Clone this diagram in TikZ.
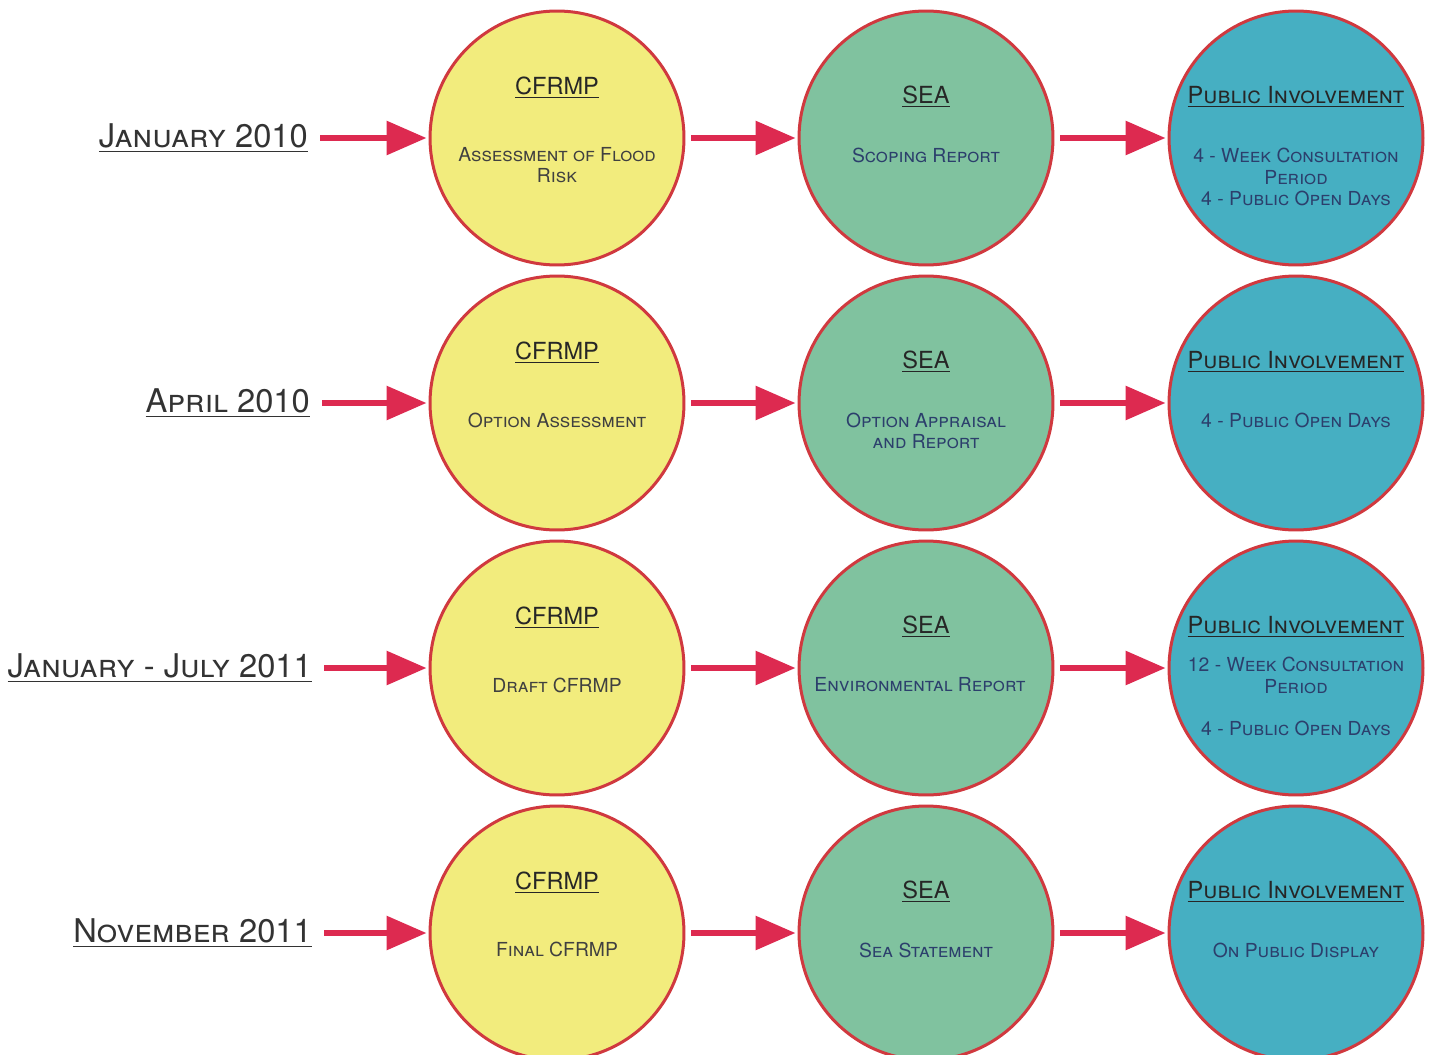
\documentclass[tikz,border=0pt]{standalone}
\usepackage{fontspec}
\setmainfont{TeX Gyre Heros}
\usepackage{tikz}
\usetikzlibrary{arrows.meta,positioning}

\definecolor{cfrmpfill}{HTML}{F2EC7D}
\definecolor{seafill}{HTML}{80C29F}
\definecolor{pubfill}{HTML}{46AFC2}
\definecolor{ringred}{HTML}{D0393F}
\definecolor{arrowred}{HTML}{DD2A50}
\definecolor{navytext}{HTML}{2C3F6C}

\begin{document}
\begin{tikzpicture}[
    x=0.02cm, y=-0.02cm,
    stage/.style={
        circle,
        draw=ringred,
        line width=0.06cm,
        minimum size=5.08cm,
        inner sep=0pt
    },
    cfrmp/.style={stage, fill=cfrmpfill},
    sea/.style={stage, fill=seafill},
    pub/.style={stage, fill=pubfill},
    datelabel/.style={
        anchor=east,
        font=\fontsize{18.6}{21}\selectfont\scshape,
        text=black!80
    },
    head/.style={
        font=\fontsize{13.4}{16}\selectfont\scshape,
        text=black!85
    },
    detail/.style={
        align=center,
        font=\fontsize{11}{12}\selectfont\scshape,
        text=navytext
    },
    flow/.style={
        draw=arrowred,
        line width=0.12cm,
        -{Triangle[length=0.8cm, width=0.66cm]},
        shorten <=0.12cm,
        shorten >=0.04cm
    }
]
\useasboundingbox (0,0) rectangle (1435,1054);

% dates
\node[datelabel] (d1) at (314,138) {\underline{January 2010}};
\node[datelabel] (d2) at (316,403) {\underline{April 2010}};
\node[datelabel] (d3) at (318,668) {\underline{January - July 2011}};
\node[datelabel] (d4) at (318,933) {\underline{November 2011}};

% circles
\node[cfrmp] (c11) at (557,138) {};
\node[sea]   (c12) at (926,138) {};
\node[pub]   (c13) at (1296,138) {};
\node[cfrmp] (c21) at (557,403) {};
\node[sea]   (c22) at (926,403) {};
\node[pub]   (c23) at (1296,403) {};
\node[cfrmp] (c31) at (557,668) {};
\node[sea]   (c32) at (926,668) {};
\node[pub]   (c33) at (1296,668) {};
\node[cfrmp] (c41) at (557,933) {};
\node[sea]   (c42) at (926,933) {};
\node[pub]   (c43) at (1296,933) {};

% row 1
\node[head] (h11) at ([yshift=1cm]c11.center) {\underline{CFRMP}};
\node[detail, text=black!75] (t11) at ([yshift=-0.55cm]c11.center) {Assessment of Flood\\Risk};
\node[head] (h12) at ([yshift=0.82cm]c12.center) {\underline{SEA}};
\node[detail] (t12) at ([yshift=-0.34cm]c12.center) {Scoping Report};
\node[head] (h13) at ([yshift=0.82cm]c13.center) {\underline{Public Involvement}};
\node[detail] (t13) at ([yshift=-0.78cm]c13.center) {4 - Week Consultation\\Period\\4 - Public Open Days};

% row 2
\node[head] (h21) at ([yshift=1cm]c21.center) {\underline{CFRMP}};
\node[detail, text=black!75] (t21) at ([yshift=-0.34cm]c21.center) {Option Assessment};
\node[head] (h22) at ([yshift=0.82cm]c22.center) {\underline{SEA}};
\node[detail] (t22) at ([yshift=-0.55cm]c22.center) {Option Appraisal\\and Report};
\node[head] (h23) at ([yshift=0.82cm]c23.center) {\underline{Public Involvement}};
\node[detail] (t23) at ([yshift=-0.34cm]c23.center) {4 - Public Open Days};

% row 3
\node[head] (h31) at ([yshift=1cm]c31.center) {\underline{CFRMP}};
\node[detail, text=black!75] (t31) at ([yshift=-0.34cm]c31.center) {Draft CFRMP};
\node[head] (h32) at ([yshift=0.82cm]c32.center) {\underline{SEA}};
\node[detail] (t32) at ([xshift=-0.12cm, yshift=-0.34cm]c32.center) {Environmental Report};
\node[head] (h33) at ([yshift=0.82cm]c33.center) {\underline{Public Involvement}};
\node[detail] (t33) at ([yshift=-0.57cm]c33.center) {12 - Week Consultation\\Period\\[12pt]4 - Public Open Days};

% row 4
\node[head] (h41) at ([yshift=1cm]c41.center) {\underline{CFRMP}};
\node[detail, text=black!75] (t41) at ([yshift=-0.32cm]c41.center) {Final CFRMP};
\node[head] (h42) at ([yshift=0.82cm]c42.center) {\underline{SEA}};
\node[detail] (t42) at ([yshift=-0.34cm]c42.center) {Sea Statement};
\node[head] (h43) at ([yshift=0.82cm]c43.center) {\underline{Public Involvement}};
\node[detail] (t43) at ([yshift=-0.34cm]c43.center) {On Public Display};

% arrows
\draw[flow] (d1.east) -- (c11.west);
\draw[flow] (c11.east) -- (c12.west);
\draw[flow] (c12.east) -- (c13.west);
\draw[flow] (d2.east) -- (c21.west);
\draw[flow] (c21.east) -- (c22.west);
\draw[flow] (c22.east) -- (c23.west);
\draw[flow] (d3.east) -- (c31.west);
\draw[flow] (c31.east) -- (c32.west);
\draw[flow] (c32.east) -- (c33.west);
\draw[flow] (d4.east) -- (c41.west);
\draw[flow] (c41.east) -- (c42.west);
\draw[flow] (c42.east) -- (c43.west);

\end{tikzpicture}
\end{document}
